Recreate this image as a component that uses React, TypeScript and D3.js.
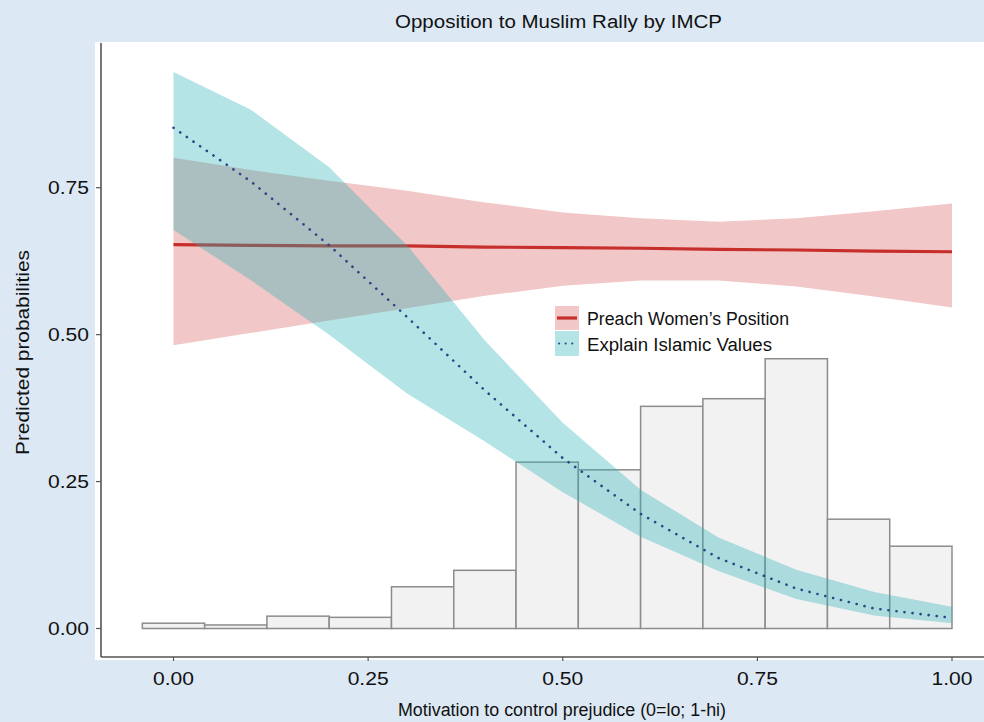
import React, { useEffect, useRef } from "react";
import * as d3 from "d3";

// x grid of predictions
const xs = [0, 0.1, 0.2, 0.3, 0.4, 0.5, 0.6, 0.7, 0.8, 0.9, 1.0];

// Preach Women's Position
const womenFit = [0.653, 0.652, 0.651, 0.651, 0.649, 0.648, 0.647, 0.645, 0.644, 0.642, 0.641];
const womenLo = [0.482, 0.503, 0.524, 0.545, 0.566, 0.583, 0.592, 0.592, 0.582, 0.565, 0.546];
const womenHi = [0.801, 0.78, 0.762, 0.745, 0.725, 0.708, 0.698, 0.692, 0.698, 0.71, 0.723];

// Explain Islamic Values
const islamFit = [0.852, 0.76, 0.652, 0.53, 0.405, 0.29, 0.195, 0.12, 0.068, 0.034, 0.018];
const islamLo = [0.678, 0.592, 0.5, 0.4, 0.318, 0.232, 0.156, 0.098, 0.05, 0.022, 0.009];
const islamHi = [0.947, 0.882, 0.785, 0.652, 0.49, 0.35, 0.236, 0.155, 0.1, 0.062, 0.037];

// histogram of IMCP (bin centres, bin width 0.08)
const binMids = [0, 0.08, 0.16, 0.24, 0.32, 0.4, 0.48, 0.56, 0.64, 0.72, 0.8, 0.88, 0.96];
const binHeights = [0.009, 0.006, 0.021, 0.019, 0.071, 0.099, 0.283, 0.27, 0.378, 0.391, 0.459, 0.186, 0.14];
const binWidth = 0.08;

const xTicks = [0, 0.25, 0.5, 0.75, 1.0];
const yTicks = [0, 0.25, 0.5, 0.75];

const legendLabels = ["Preach Women\u2019s Position", "Explain Islamic Values"];
const legendLengths = [202, 185];

const W = 984;
const H = 722;
const FONT = "Liberation Sans, Arial, Helvetica, sans-serif";

const App = () => {
  const svgRef = useRef(null);

  useEffect(() => {
    const svg = d3.select(svgRef.current);
    svg.selectAll("*").remove();

    const x = d3.scaleLinear().domain([0, 1]).range([173.5, 952]);
    const y = d3.scaleLinear().domain([0, 0.75]).range([628.5, 187.7]);

    // text helper: the source type is set wide, so stretch to measured widths
    const label = (g, str, len, attrs) => {
      const t = g
        .append("text")
        .attr("font-family", FONT)
        .attr("font-size", 18)
        .attr("fill", "#111")
        .attr("textLength", len)
        .attr("lengthAdjust", "spacingAndGlyphs")
        .text(str);
      Object.entries(attrs).forEach(([k, v]) => t.attr(k, v));
      return t;
    };

    // background + panel
    svg.append("rect").attr("width", W).attr("height", H).attr("fill", "#dce8f4");
    svg
      .append("rect")
      .attr("x", 95)
      .attr("y", 42)
      .attr("width", W - 95)
      .attr("height", 618)
      .attr("fill", "#ffffff");

    // histogram
    svg
      .append("g")
      .selectAll("rect")
      .data(binMids)
      .enter()
      .append("rect")
      .attr("x", (d) => x(d - binWidth / 2))
      .attr("width", (d) => x(d + binWidth / 2) - x(d - binWidth / 2))
      .attr("y", (d, i) => y(binHeights[i]))
      .attr("height", (d, i) => y(0) - y(binHeights[i]))
      .attr("fill", "#f2f2f2")
      .attr("stroke", "#8c8c8c")
      .attr("stroke-width", 1.5);

    const band = (lo, hi) =>
      d3
        .area()
        .x((d, i) => x(xs[i]))
        .y0((d, i) => y(lo[i]))
        .y1((d, i) => y(hi[i]))(xs);

    const line = (vals) =>
      d3
        .line()
        .x((d, i) => x(xs[i]))
        .y((d, i) => y(vals[i]))(xs);

    // red ribbon + line
    svg.append("path").attr("d", band(womenLo, womenHi)).attr("fill", "rgb(200,40,40)").attr("fill-opacity", 0.26);
    svg
      .append("path")
      .attr("d", line(womenFit))
      .attr("fill", "none")
      .attr("stroke", "#c62f2b")
      .attr("stroke-width", 3.2);

    // teal ribbon + dotted line
    svg.append("path").attr("d", band(islamLo, islamHi)).attr("fill", "rgb(41,178,184)").attr("fill-opacity", 0.35);
    svg
      .append("path")
      .attr("d", line(islamFit))
      .attr("fill", "none")
      .attr("stroke", "#2f4487")
      .attr("stroke-width", 2.6)
      .attr("stroke-linecap", "round")
      .attr("stroke-dasharray", "0.1 8");

    // axes
    const axisColor = "#555555";
    svg.append("line").attr("x1", 101).attr("x2", W).attr("y1", 657).attr("y2", 657).attr("stroke", axisColor).attr("stroke-width", 1.6);
    svg.append("line").attr("x1", 101).attr("x2", 101).attr("y1", 43).attr("y2", 657).attr("stroke", axisColor).attr("stroke-width", 1.6);

    const xg = svg.append("g");
    xTicks.forEach((t) => {
      xg.append("line").attr("x1", x(t)).attr("x2", x(t)).attr("y1", 657).attr("y2", 661).attr("stroke", axisColor).attr("stroke-width", 1.2);
      label(xg, d3.format(".2f")(t), 41, { x: x(t) - 20.5, y: 685 });
    });

    const yg = svg.append("g");
    yTicks.forEach((t) => {
      yg.append("line").attr("x1", 96).attr("x2", 101).attr("y1", y(t)).attr("y2", y(t)).attr("stroke", axisColor).attr("stroke-width", 1.2);
      label(yg, d3.format(".2f")(t), 41, { x: 48, y: y(t) + 6.5 });
    });

    // titles
    label(svg, "Opposition to Muslim Rally by IMCP", 327, { x: 395, y: 28 });
    label(svg, "Motivation to control prejudice (0=lo; 1-hi)", 328, { x: 398, y: 716 });
    label(svg, "Predicted probabilities", 205, {
      transform: "translate(29, 455) rotate(-90)",
    });

    // legend
    const lg = svg.append("g").attr("transform", "translate(555, 306)");
    lg.append("rect").attr("width", 24).attr("height", 24).attr("fill", "rgb(200,40,40)").attr("fill-opacity", 0.26);
    lg.append("line").attr("x1", 2).attr("x2", 22).attr("y1", 12).attr("y2", 12).attr("stroke", "#c62f2b").attr("stroke-width", 3.2);
    lg.append("rect").attr("y", 25).attr("width", 24).attr("height", 25).attr("fill", "rgb(41,178,184)").attr("fill-opacity", 0.35);
    lg.append("line")
      .attr("x1", 4)
      .attr("x2", 22)
      .attr("y1", 37.5)
      .attr("y2", 37.5)
      .attr("stroke", "#2f4487")
      .attr("stroke-width", 2)
      .attr("stroke-linecap", "round")
      .attr("stroke-dasharray", "0.1 6.5");
    legendLabels.forEach((lab, i) => {
      label(lg, lab, legendLengths[i], { x: 32, y: 19 + i * 26 });
    });
  }, []);

  return (
    <svg
      ref={svgRef}
      width={W}
      height={H}
      style={{ position: "absolute", left: 0, top: 0, display: "block" }}
    />
  );
};

export default App;
